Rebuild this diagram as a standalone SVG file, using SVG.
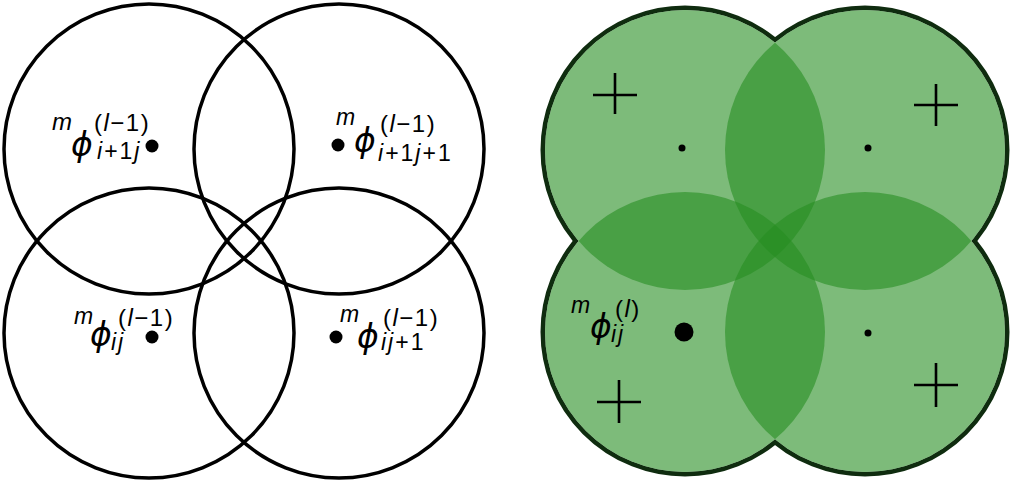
<svg xmlns="http://www.w3.org/2000/svg" width="1010" height="486" viewBox="0 0 1010 486">
<style>
.ring{fill:none;stroke:#000;stroke-width:3.5}
.edge{fill:none;stroke:#0f2c0f;stroke-width:9}
.base{fill:#fff}
.disc{fill:rgb(39,142,34);fill-opacity:0.6}
.t{font-family:"Liberation Sans",Arial,sans-serif;fill:#000}
.it{font-style:italic}
.ph{font-family:"DejaVu Sans","Liberation Sans",sans-serif;font-style:italic;font-size:33px}
.sp{font-size:24px;letter-spacing:1.5px}
.sb{font-size:23px;letter-spacing:2px}
.plus{stroke:#000;stroke-width:2.6;fill:none}
</style>
<rect width="1010" height="486" fill="#fff"/>
<g id="left-panel">
  <g id="c-i1j"><circle class="ring" cx="149" cy="149" r="145"/><circle cx="152" cy="146" r="6.5"/>
    <text class="t" font-size="24"><tspan class="it" x="52" y="130">m</tspan><tspan class="ph" x="71" y="156">ϕ</tspan><tspan class="sp" x="94" y="131">(<tspan class="it">l</tspan>−1)</tspan><tspan class="sb" x="97" y="159"><tspan class="it">i</tspan>+1<tspan class="it">j</tspan></tspan></text></g>
  <g id="c-i1j1"><circle class="ring" cx="339" cy="149" r="145"/><circle cx="338" cy="145" r="6.5"/>
    <text class="t" font-size="23"><tspan class="it" x="336" y="125">m</tspan><tspan class="ph" x="354" y="152">ϕ</tspan><tspan class="sp" x="380" y="132">(<tspan class="it">l</tspan>−1)</tspan><tspan class="sb" x="378" y="161"><tspan class="it">i</tspan>+1<tspan class="it">j</tspan>+1</tspan></text></g>
  <g id="c-ij"><circle class="ring" cx="149" cy="333" r="145"/><circle cx="152" cy="337" r="6.5"/>
    <text class="t" font-size="23"><tspan class="it" x="74" y="324">m</tspan><tspan class="ph" x="90" y="346">ϕ</tspan><tspan class="sp" x="118" y="326">(<tspan class="it">l</tspan>−1)</tspan><tspan class="sb it" x="111" y="350">ij</tspan></text></g>
  <g id="c-ij1"><circle class="ring" cx="339" cy="333" r="145"/><circle cx="336" cy="337" r="6.5"/>
    <text class="t" font-size="23"><tspan class="it" x="340" y="322">m</tspan><tspan class="ph" x="357" y="348">ϕ</tspan><tspan class="sp" x="383" y="326">(<tspan class="it">l</tspan>−1)</tspan><tspan class="sb" x="381" y="350"><tspan class="it">ij</tspan>+1</tspan></text></g>
</g>
<g id="right-panel">
  <g id="outline">
    <circle class="edge" cx="685" cy="150" r="140"/><circle class="edge" cx="865" cy="150" r="140"/>
    <circle class="edge" cx="685" cy="332" r="140"/><circle class="edge" cx="865" cy="332" r="140"/>
    <circle class="base" cx="685" cy="150" r="140"/><circle class="base" cx="865" cy="150" r="140"/>
    <circle class="base" cx="685" cy="332" r="140"/><circle class="base" cx="865" cy="332" r="140"/>
  </g>
  <g id="d-tl"><circle class="disc" cx="685" cy="150" r="140"/></g>
  <g id="d-tr"><circle class="disc" cx="865" cy="150" r="140"/></g>
  <g id="d-bl"><circle class="disc" cx="685" cy="332" r="140"/></g>
  <g id="d-br"><circle class="disc" cx="865" cy="332" r="140"/></g>
  <g id="marks">
    <circle cx="682" cy="148" r="3.5"/><circle cx="868" cy="148" r="3.5"/><circle cx="868" cy="333" r="3.5"/>
    <circle cx="684" cy="332" r="9.5"/>
    <path class="plus" d="M593 95H637M615 73V114"/>
    <path class="plus" d="M914 105H958M936 84V126"/>
    <path class="plus" d="M597 402H641M619 380V423"/>
    <path class="plus" d="M914 385H958M936 363V407"/>
  </g>
  <g id="label-ij">
    <text class="t" font-size="23"><tspan class="it" x="571" y="313">m</tspan><tspan class="ph" x="590" y="338">ϕ</tspan><tspan class="sp" x="615" y="317">(<tspan class="it">l</tspan>)</tspan><tspan class="sb it" x="611" y="342">ij</tspan></text>
  </g>
</g>
</svg>
